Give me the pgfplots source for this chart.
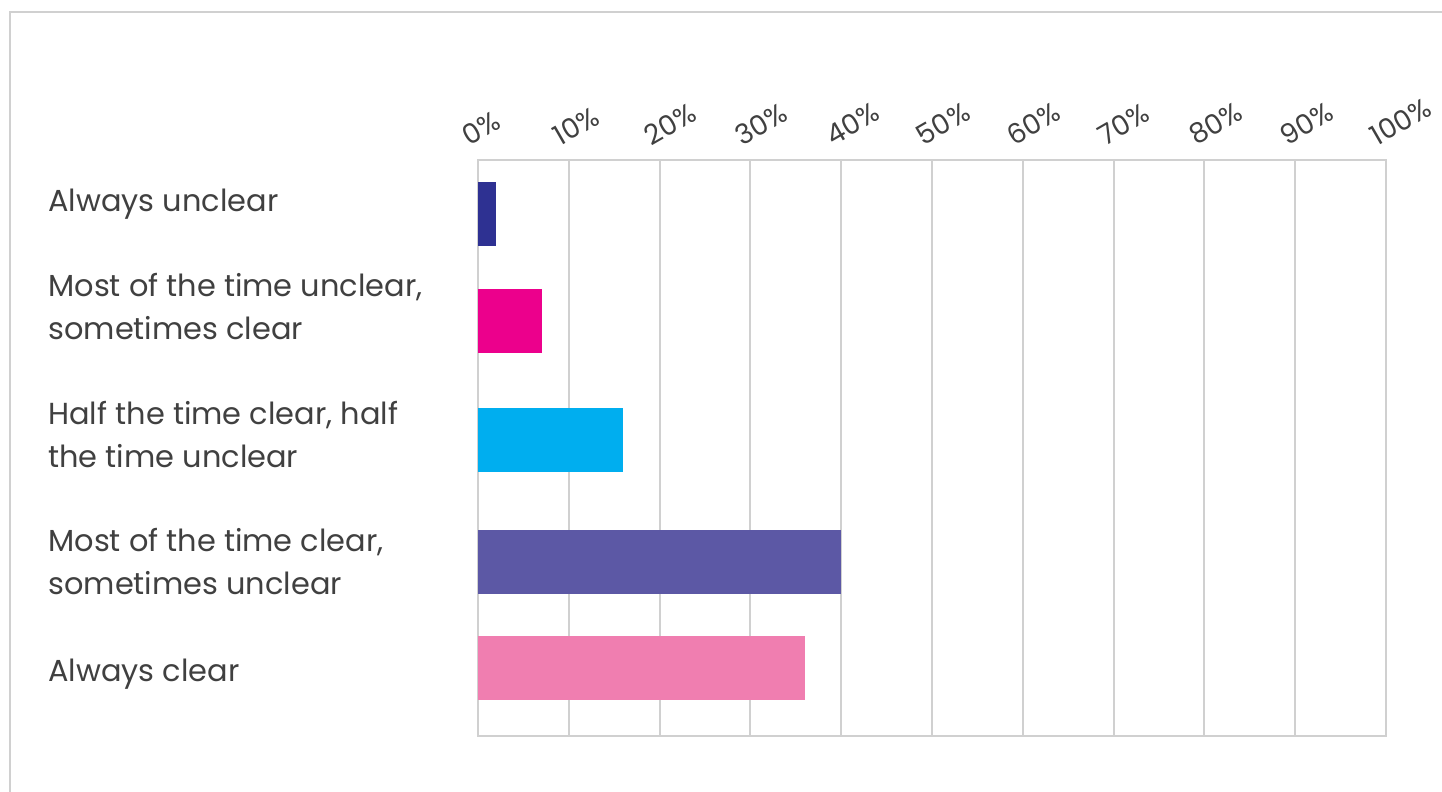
\documentclass[border=0pt]{standalone}
\usepackage{pgfplots}
\pgfplotsset{compat=1.18}
\usepackage{fontspec}
\setmainfont{Poppins}
\definecolor{c1}{HTML}{2E3192}
\definecolor{c2}{HTML}{EC008C}
\definecolor{c3}{HTML}{00AEEF}
\definecolor{c4}{HTML}{5C58A5}
\definecolor{c5}{HTML}{F07EB0}
\definecolor{gridc}{HTML}{D0D0D0}
\definecolor{txt}{HTML}{404040}
\begin{document}
\begin{tikzpicture}
\useasboundingbox (0pt,0pt) rectangle (721pt,-396pt);
\draw[gridc, line width=1pt] (5pt,-396pt) -- (5pt,-6pt) -- (721pt,-6pt);
\begin{axis}[
  at={(239pt,-80pt)}, anchor=north west, scale only axis,
  width=454pt, height=288pt,
  xmin=0, xmax=100, ymin=160, ymax=736, y dir=reverse,
  xbar, bar width=64, bar shift=0pt,
  axis line style={gridc, line width=1pt},
  xmajorgrids, grid style={gridc, line width=1pt},
  xtick={0,10,...,100}, xticklabel pos=upper,
  xticklabels={0\%,10\%,20\%,30\%,40\%,50\%,60\%,70\%,80\%,90\%,100\%},
  major tick length=0pt,
  ytick={204,306.5,434.5,562,674},
  yticklabels={Always unclear,{Most of the time unclear,\\sometimes clear},{Half the time clear, half\\the time unclear},{Most of the time clear,\\sometimes unclear},Always clear},
  yticklabel style={align=left, anchor=west, inner sep=0pt, xshift=-215pt, font=\fontsize{15.2}{21.5}\selectfont, text=txt},
  xticklabel style={xshift=-4pt, yshift=6.5pt, rotate=30, anchor=south west, inner sep=0pt, font=\fontsize{13.8}{16}\selectfont, text=txt},
  /pgf/number format/assume math mode=true,
]
\addplot[fill=c1, draw=none, bar shift=0pt] coordinates {(2,214)};
\addplot[fill=c2, draw=none, bar shift=0pt] coordinates {(7,321)};
\addplot[fill=c3, draw=none, bar shift=0pt] coordinates {(16,440)};
\addplot[fill=c4, draw=none, bar shift=0pt] coordinates {(40,562)};
\addplot[fill=c5, draw=none, bar shift=0pt] coordinates {(36,668)};
\end{axis}
\end{tikzpicture}
\end{document}
